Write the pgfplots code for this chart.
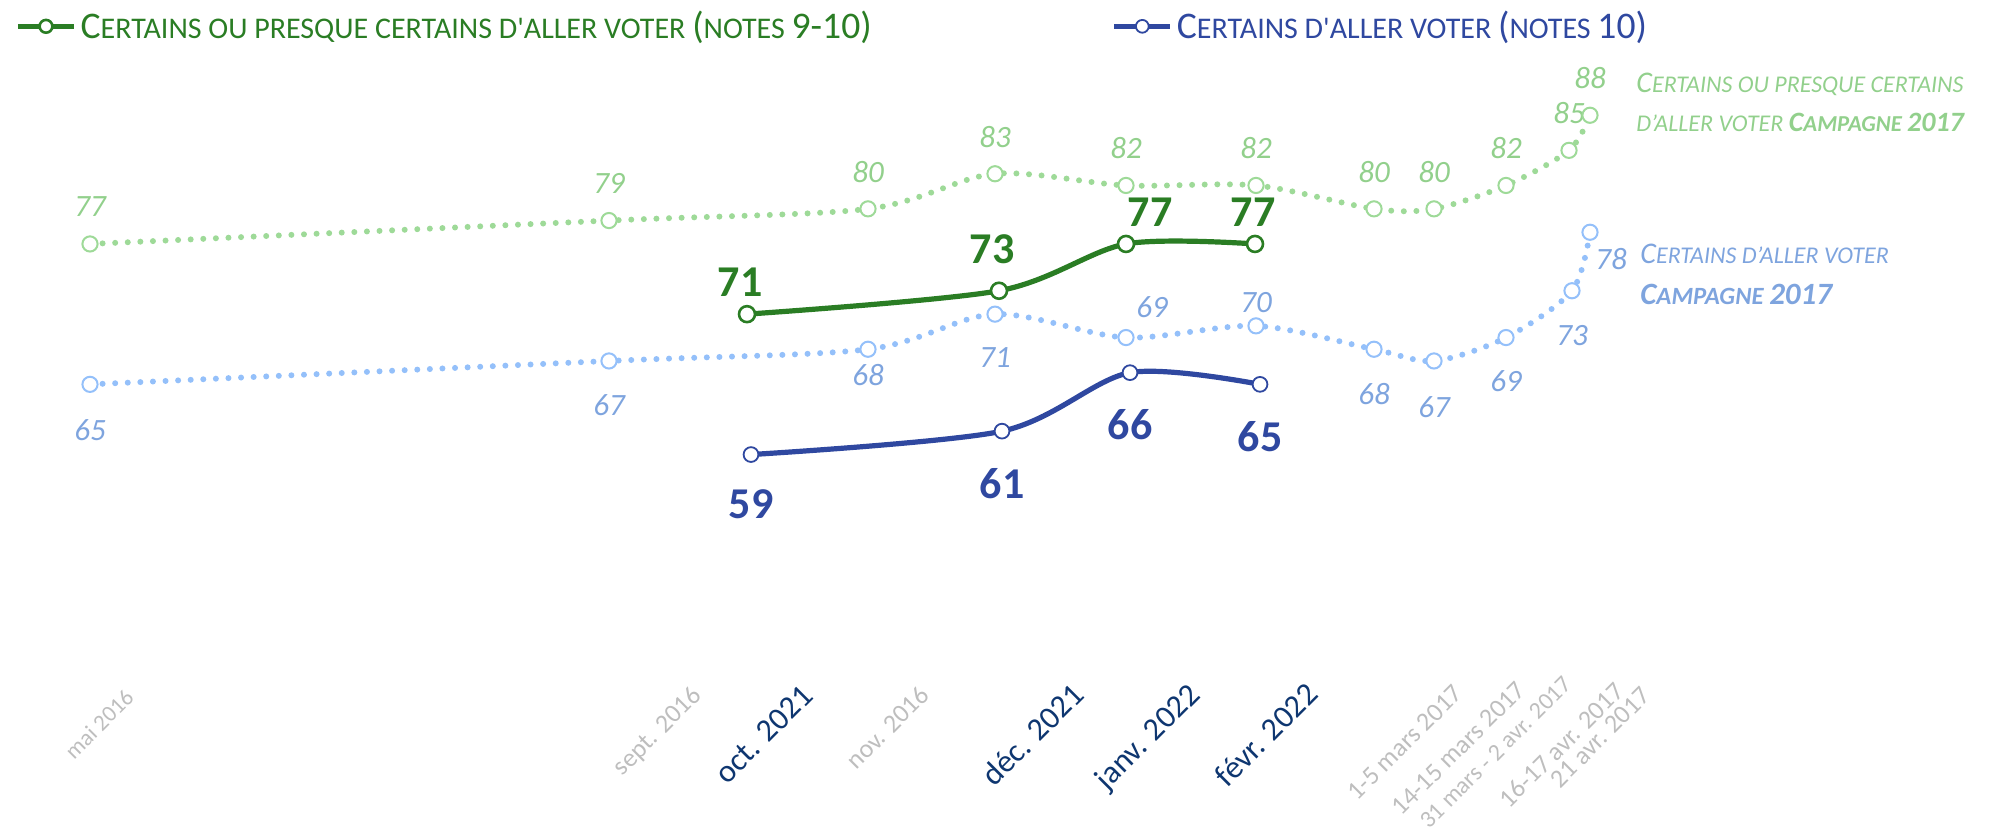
\documentclass[border=0pt]{standalone}
\usepackage{fontspec}
\setmainfont{Carlito}
\usepackage{pgfplots}
\pgfplotsset{compat=1.18}

\definecolor{dkgreen}{RGB}{42,125,36}
\definecolor{ltgreen}{RGB}{158,218,152}
\definecolor{lglab}{RGB}{146,208,140}
\definecolor{dkblue}{RGB}{47,72,160}
\definecolor{ltblue}{RGB}{148,192,250}
\definecolor{lblab}{RGB}{126,164,222}
\definecolor{navy}{RGB}{14,54,112}
\definecolor{tgray}{RGB}{190,190,190}

% fake small caps: big first letters, small the rest
\newcommand{\bigc}[1]{{\fontsize{18.8}{22}\selectfont #1}}
\newcommand{\smc}[1]{{\fontsize{15}{18}\selectfont #1}}
\newcommand{\abig}[1]{{\fontsize{15}{18}\selectfont #1}}
\newcommand{\asm}[1]{{\fontsize{12}{14}\selectfont #1}}

\begin{document}
\begin{tikzpicture}[
  lgl/.style={text=lglab, font=\itshape\fontsize{15.5}{17}\selectfont, inner sep=0pt},
  lbl/.style={text=lblab, font=\itshape\fontsize{15.5}{17}\selectfont, inner sep=0pt},
  dgl/.style={text=dkgreen, font=\bfseries\fontsize{22}{24}\selectfont, inner sep=0pt},
  dbl/.style={text=dkblue, font=\bfseries\fontsize{22}{24}\selectfont, inner sep=0pt},
  gtick/.style={text=tgray, font=\fontsize{13}{15}\selectfont, rotate=45, anchor=north east, inner sep=0pt},
  ntick/.style={text=navy, font=\fontsize{16}{18}\selectfont, rotate=45, anchor=north east, inner sep=0pt},
]
\begin{axis}[
  scale only axis, width=999pt, height=418pt,
  xmin=0, xmax=1998, ymin=26.4, ymax=97.85,
  hide axis, clip=false,
  legend columns=2,
  legend image code/.code={\draw[mark repeat=2,mark phase=2,#1,mark size=3.2pt]
    plot coordinates {(0pt,0pt)(14pt,0pt)(28pt,0pt)};},
  legend style={at={(axis cs:15,95.6)}, anchor=west, draw=none, fill=none,
    inner sep=0pt, cells={anchor=west, inner sep=1pt},
    /tikz/every even column/.append style={column sep=118pt}},
]
% campagne 2017 : certains ou presque certains
\addplot[forget plot, smooth, ltgreen, line width=3pt, line cap=round,
  dash pattern=on 0pt off 6.3pt, mark=*, mark size=3.8pt,
  mark options={solid, fill=white, draw=ltgreen, line width=1pt}]
  coordinates {(90,77)(609,79)(868,80)(995,83)(1126,82)(1256,82)
               (1374,80)(1434,80)(1506,82)(1569,85)(1590,88)};
% campagne 2017 : certains
\addplot[forget plot, smooth, ltblue, line width=3pt, line cap=round,
  dash pattern=on 0pt off 6.3pt, mark=*, mark size=3.8pt,
  mark options={solid, fill=white, draw=ltblue, line width=1pt}]
  coordinates {(90,65)(609,67)(868,68)(995,71)(1126,69)(1256,70)
               (1374,68)(1434,67)(1506,69)(1572,73)(1590,78)};
% 2021-2022
\addplot[smooth, dkgreen, line width=2.6pt, mark=*, mark size=4pt,
  mark options={fill=white, line width=1.3pt}]
  coordinates {(747,71)(999,73)(1126,77)(1255,77)};
\addlegendentry{\textcolor{dkgreen}{\bigc{C}\smc{ERTAINS OU PRESQUE CERTAINS D\textquotesingle ALLER VOTER }\bigc{(}\smc{NOTES }\bigc{9-10)}}}
\addplot[smooth, dkblue, line width=2.6pt, mark=*, mark size=3.7pt,
  mark options={fill=white, line width=0.9pt}]
  coordinates {(751,59)(1002,61)(1130,66)(1260,65)};
\addlegendentry{\textcolor{dkblue}{\bigc{C}\smc{ERTAINS D\textquotesingle ALLER VOTER }\bigc{(}\smc{NOTES }\bigc{10)}}}

% labels, light green
\node[lgl, yshift=18.5pt] at (axis cs:90,77) {77};
\node[lgl, yshift=18.5pt] at (axis cs:609,79) {79};
\node[lgl, yshift=18.5pt] at (axis cs:868,80) {80};
\node[lgl, yshift=18.5pt] at (axis cs:995,83) {83};
\node[lgl, yshift=18.5pt] at (axis cs:1126,82) {82};
\node[lgl, yshift=18.5pt] at (axis cs:1256,82) {82};
\node[lgl, yshift=18.5pt] at (axis cs:1374,80) {80};
\node[lgl, yshift=18.5pt] at (axis cs:1434,80) {80};
\node[lgl, yshift=18.5pt] at (axis cs:1506,82) {82};
\node[lgl, yshift=18.5pt] at (axis cs:1569,85) {85};
\node[lgl, yshift=18.5pt] at (axis cs:1590,88) {88};
% labels, light blue
\node[lbl, yshift=-23pt] at (axis cs:90,65) {65};
\node[lbl, yshift=-22pt] at (axis cs:609,67) {67};
\node[lbl, yshift=-13pt] at (axis cs:868,68) {68};
\node[lbl, yshift=-21.5pt] at (axis cs:995,71) {71};
\node[lbl, xshift=13pt, yshift=15pt] at (axis cs:1126,69) {69};
\node[lbl, yshift=11.5pt] at (axis cs:1256,70) {70};
\node[lbl, yshift=-22.5pt] at (axis cs:1374,68) {68};
\node[lbl, yshift=-23pt] at (axis cs:1434,67) {67};
\node[lbl, yshift=-22pt] at (axis cs:1506,69) {69};
\node[lbl, yshift=-22.5pt] at (axis cs:1572,73) {73};
\node[lbl, xshift=10.5pt, yshift=-13.5pt] at (axis cs:1590,78) {78};
% labels, dark
\node[dgl, xshift=-3.5pt, yshift=16pt] at (axis cs:747,71) {71};
\node[dgl, xshift=-3.5pt, yshift=21pt] at (axis cs:999,73) {73};
\node[dgl, xshift=12pt, yshift=16pt] at (axis cs:1126,77) {77};
\node[dgl, xshift=-1pt, yshift=16pt] at (axis cs:1255,77) {77};
\node[dbl, yshift=-25pt] at (axis cs:751,59) {59};
\node[dbl, yshift=-26pt] at (axis cs:1002,61) {61};
\node[dbl, yshift=-26pt] at (axis cs:1130,66) {66};
\node[dbl, yshift=-26pt] at (axis cs:1260,65) {65};

% side notes
\node[anchor=base west, inner sep=0pt, text=lglab, font=\itshape] at (axis cs:1636,89.94)
  {\abig{C}\asm{ERTAINS OU PRESQUE CERTAINS}};
\node[anchor=base west, inner sep=0pt, text=lglab, font=\itshape] at (axis cs:1636,86.61)
  {\asm{D'ALLER VOTER }{\bfseries\fontsize{14}{16}\selectfont C{\fontsize{11.4}{13}\selectfont AMPAGNE }2017}};
\node[anchor=base west, inner sep=0pt, text=lblab, font=\itshape] at (axis cs:1640,75.33)
  {\abig{C}\asm{ERTAINS D'ALLER VOTER}};
\node[anchor=base west, inner sep=0pt, text=lblab, font=\itshape] at (axis cs:1640,71.83)
  {{\bfseries\fontsize{15.5}{18}\selectfont C{\fontsize{12.4}{14}\selectfont AMPAGNE }2017}};

% x labels
\node[gtick, font=\fontsize{11.5}{13}\selectfont] at (axis cs:124,39.1) {mai 2016};
\node[gtick] at (axis cs:690,39.4) {sept. 2016};
\node[ntick] at (axis cs:800,39.5) {oct. 2021};
\node[gtick] at (axis cs:918,39.4) {nov. 2016};
\node[ntick] at (axis cs:1070,39.7) {déc. 2021};
\node[ntick] at (axis cs:1186,39.7) {janv. 2022};
\node[ntick] at (axis cs:1304,39.7) {févr. 2022};
\node[gtick] at (axis cs:1452,39.5) {1-5 mars 2017};
\node[gtick] at (axis cs:1515,39.8) {14-15 mars 2017};
\node[gtick, font=\fontsize{12}{14}\selectfont] at (axis cs:1562,40.2) {31 mars - 2 avr. 2017};
\node[gtick] at (axis cs:1613,39.7) {16-17 avr. 2017};
\node[gtick] at (axis cs:1640,39.3) {21 avr. 2017};

\coordinate (BL) at (rel axis cs:0,0);
\coordinate (TR) at (rel axis cs:1,1);
\end{axis}
\pgfresetboundingbox
\useasboundingbox (BL) rectangle (TR);
\end{tikzpicture}
\end{document}
